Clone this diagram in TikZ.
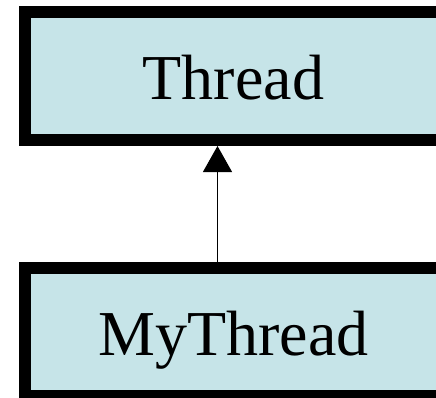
\documentclass[tikz,border=0pt]{standalone}
\usepackage{fontspec}
\setmainfont{Liberation Serif}
\usetikzlibrary{arrows.meta}
\definecolor{boxfill}{RGB}{198,228,232}
\tikzset{
  classbox/.style={draw=black, line width=12pt, fill=boxfill, rectangle,
    inner sep=0pt, minimum width=460pt, minimum height=128pt, anchor=west},
  classname/.style={inner sep=0pt, text height=47pt, text depth=0pt,
    font=\fontsize{64}{70}\selectfont},
  inherit/.style={line width=1pt, -{Triangle[width=29pt,length=26pt]}}
}
\begin{document}
\begin{tikzpicture}[x=1pt,y=1pt]
\useasboundingbox (0,0) rectangle (436,-397);
\clip (0,0) rectangle (436,-397);
\node[classbox] (thread) at (19,-76) {};
\node[classbox] (mythread) at (19,-332) {};
\node[classname] (threadtext) at (233.5,-76) {Thread};
\node[classname] (mythreadtext) at (233.5,-332) {MyThread};
\draw[inherit] (mythread.north -| 217.5,0) -- (thread.south -| 217.5,0);
\end{tikzpicture}
\end{document}
